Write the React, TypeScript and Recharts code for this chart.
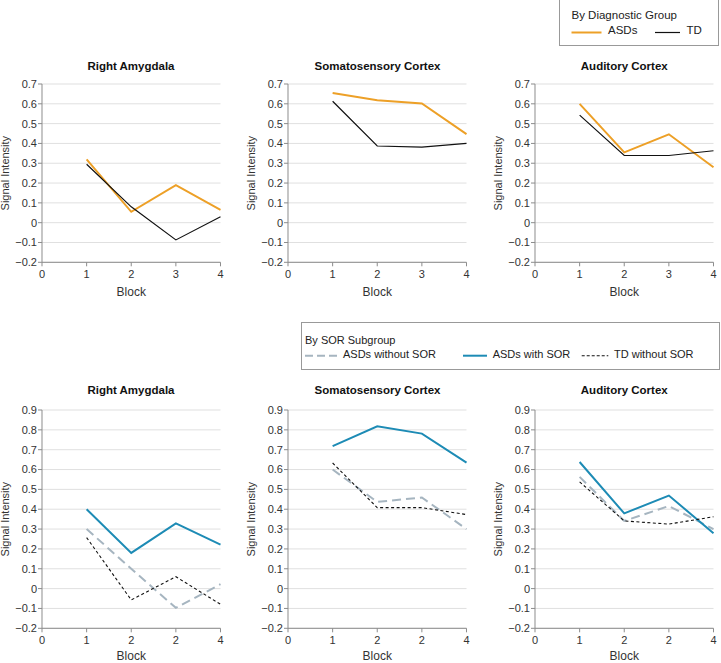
import React from "react";
import { LineChart, Line, XAxis, YAxis, CartesianGrid } from "recharts";

// ---------- data ----------
const blocks = [1, 2, 3, 4];
const topXTickLabels = ["0", "1", "2", "3", "4"];
const bottomXTickLabels = ["0", "1", "2", "2", "4"];
const topYTicks = [-0.2, -0.1, 0, 0.1, 0.2, 0.3, 0.4, 0.5, 0.6, 0.7];
const bottomYTicks = [-0.2, -0.1, 0, 0.1, 0.2, 0.3, 0.4, 0.5, 0.6, 0.7, 0.8, 0.9];
const regionTitles = ["Right Amygdala", "Somatosensory Cortex", "Auditory Cortex"];

// By diagnostic group
const amygdalaASDs = [0.32, 0.055, 0.19, 0.065];
const amygdalaTD = [0.295, 0.08, -0.087, 0.03];
const somatoASDs = [0.655, 0.618, 0.602, 0.447];
const somatoTD = [0.613, 0.387, 0.381, 0.4];
const auditoryASDs = [0.6, 0.355, 0.446, 0.28];
const auditoryTD = [0.543, 0.339, 0.339, 0.363];

// By SOR subgroup
const amygdalaWithoutSOR = [0.3, 0.1, -0.097, 0.022];
const amygdalaWithSOR = [0.4, 0.18, 0.329, 0.222];
const amygdalaTDWithoutSOR = [0.257, -0.057, 0.06, -0.079];
const somatoWithoutSOR = [0.6, 0.437, 0.459, 0.3];
const somatoWithSOR = [0.718, 0.818, 0.781, 0.635];
const somatoTDWithoutSOR = [0.633, 0.408, 0.408, 0.373];
const auditoryWithoutSOR = [0.563, 0.341, 0.416, 0.3];
const auditoryWithSOR = [0.638, 0.379, 0.469, 0.279];
const auditoryTDWithoutSOR = [0.538, 0.341, 0.325, 0.362];

// ---------- styles ----------
const FONT = "'Liberation Sans', Arial, sans-serif";
const NARROW = "'Liberation Sans Narrow', 'Liberation Sans', Arial, sans-serif";
const ORANGE = "#EDA027";
const BLUE = "#1D8BB5";
const GRAY = "#A6B5C0";
const AXIS = "#8c8c8c";
const GRID = "#e0e0e0";

const PLOT_W = 178.5;
const AXIS_X = [41.7, 288.3, 535];

const topData = [
  blocks.map((b, i) => ({ block: b, asd: amygdalaASDs[i], td: amygdalaTD[i] })),
  blocks.map((b, i) => ({ block: b, asd: somatoASDs[i], td: somatoTD[i] })),
  blocks.map((b, i) => ({ block: b, asd: auditoryASDs[i], td: auditoryTD[i] })),
];
const bottomData = [
  blocks.map((b, i) => ({ block: b, wo: amygdalaWithoutSOR[i], w: amygdalaWithSOR[i], td: amygdalaTDWithoutSOR[i] })),
  blocks.map((b, i) => ({ block: b, wo: somatoWithoutSOR[i], w: somatoWithSOR[i], td: somatoTDWithoutSOR[i] })),
  blocks.map((b, i) => ({ block: b, wo: auditoryWithoutSOR[i], w: auditoryWithSOR[i], td: auditoryTDWithoutSOR[i] })),
];

const topSeries = [
  { key: "asd", color: ORANGE, width: 2, dash: undefined },
  { key: "td", color: "#111", width: 1.2, dash: undefined },
];
const bottomSeries = [
  { key: "wo", color: GRAY, width: 2, dash: "9 5" },
  { key: "w", color: BLUE, width: 2, dash: undefined },
  { key: "td", color: "#111", width: 1.1, dash: "3 2.5" },
];

const fmtY = (v: number) => {
  if (Math.abs(v) < 1e-9) return "0";
  return (v < 0 ? "\u2212" : "") + Math.abs(v).toFixed(1);
};

function Txt({ x, baseline, size, bold, children, color }: any) {
  return (
    <div
      style={{
        position: "absolute",
        left: x,
        top: baseline - 0.8465 * size,
        fontSize: size,
        lineHeight: `${size}px`,
        fontFamily: FONT,
        fontWeight: bold ? 700 : 400,
        color: color || "#222",
        whiteSpace: "nowrap",
      }}
    >
      {children}
    </div>
  );
}

function Panel({ axisX, plotTop, plotH, yTicks, xLabels, data, series, title, titleBaseline, blockOffset }: any) {
  const YW = 42;
  const MT = 10;
  const MR = 6;
  const XH = 40;
  const width = YW + PLOT_W + MR;
  const height = MT + plotH + XH;
  const yMin = yTicks[0];
  const yMax = yTicks[yTicks.length - 1];
  return (
    <>
      <div
        style={{
          position: "absolute",
          left: axisX,
          width: PLOT_W,
          top: titleBaseline - 0.8465 * 11.5,
          textAlign: "center",
          fontSize: 11.5,
          lineHeight: "11.5px",
          fontFamily: FONT,
          fontWeight: 700,
          color: "#111",
          whiteSpace: "nowrap",
        }}
      >
        {title}
      </div>
      <div style={{ position: "absolute", left: axisX - YW, top: plotTop - MT }}>
        <LineChart width={width} height={height} data={data} margin={{ top: MT, right: MR, bottom: 0, left: 0 }}>
          <CartesianGrid vertical={false} stroke={GRID} />
          <XAxis
            dataKey="block"
            type="number"
            domain={[0, 4]}
            ticks={[0, 1, 2, 3, 4]}
            interval={0}
            height={XH}
            tickSize={4}
            tickMargin={4}
            stroke={AXIS}
            tick={{ fontSize: 11, fill: "#333", fontFamily: NARROW }}
            tickFormatter={(v: number, i: number) => xLabels[i] ?? String(v)}
            label={{ value: "Block", position: "insideBottom", offset: blockOffset, style: { fontSize: 12, fill: "#333", fontFamily: FONT } }}
          />
          <YAxis
            type="number"
            domain={[yMin, yMax]}
            ticks={yTicks}
            interval={0}
            width={YW}
            tickSize={4}
            tickMargin={1}
            stroke={AXIS}
            allowDataOverflow
            tick={{ fontSize: 11, fill: "#333", fontFamily: NARROW }}
            tickFormatter={fmtY}
            label={{
              value: "Signal Intensity",
              angle: -90,
              position: "insideLeft",
              offset: 5,
              style: { textAnchor: "middle", fontSize: 11, fill: "#333", fontFamily: FONT },
            }}
          />
          {series.map((s: any) => (
            <Line
              key={s.key}
              dataKey={s.key}
              type="linear"
              stroke={s.color}
              strokeWidth={s.width}
              strokeDasharray={s.dash}
              dot={false}
              activeDot={false}
              isAnimationActive={false}
            />
          ))}
        </LineChart>
      </div>
    </>
  );
}

function LegendLine({ x1, x2, y, color, width, dash }: any) {
  return (
    <svg style={{ position: "absolute", left: 0, top: 0, overflow: "visible" }} width={1} height={1}>
      <line x1={x1} x2={x2} y1={y} y2={y} stroke={color} strokeWidth={width} strokeDasharray={dash} />
    </svg>
  );
}

export default function App() {
  return (
    <div style={{ position: "absolute", left: 0, top: 0, width: 721, height: 663, background: "#fff", overflow: "hidden" }}>
      {/* Top legend */}
      <div style={{ position: "absolute", left: 559, top: -1, width: 160, height: 47, border: "1px solid #999", boxSizing: "border-box" }} />
      <Txt x={571.5} baseline={19.5} size={11.5}>By Diagnostic Group</Txt>
      <LegendLine x1={571.5} x2={601.5} y={32.5} color={ORANGE} width={2} />
      <Txt x={608} baseline={34.5} size={11.5}>ASDs</Txt>
      <LegendLine x1={655} x2={680} y={32.5} color="#111" width={1.2} />
      <Txt x={686.5} baseline={34.5} size={11.5}>TD</Txt>

      {[0, 1, 2].map((i) => (
        <Panel
          key={"t" + i}
          axisX={AXIS_X[i]}
          plotTop={84}
          plotH={178.3}
          yTicks={topYTicks}
          xLabels={topXTickLabels}
          data={topData[i]}
          series={topSeries}
          title={regionTitles[i]}
          titleBaseline={71}
          blockOffset={6}
        />
      ))}

      {/* Bottom legend */}
      <div style={{ position: "absolute", left: 301, top: 322, width: 419, height: 48, border: "1px solid #999", boxSizing: "border-box" }} />
      <Txt x={305} baseline={344.5} size={11}>By SOR Subgroup</Txt>
      <LegendLine x1={305} x2={338} y={355.7} color={GRAY} width={2} dash="8 4" />
      <Txt x={343} baseline={358.5} size={11}>ASDs without SOR</Txt>
      <LegendLine x1={463} x2={487} y={355.7} color={BLUE} width={2} />
      <Txt x={492.7} baseline={358.5} size={11}>ASDs with SOR</Txt>
      <LegendLine x1={581.7} x2={608.3} y={355.7} color="#111" width={1.1} dash="3 2" />
      <Txt x={614} baseline={358.5} size={11}>TD without SOR</Txt>

      {[0, 1, 2].map((i) => (
        <Panel
          key={"b" + i}
          axisX={AXIS_X[i]}
          plotTop={410}
          plotH={218.3}
          yTicks={bottomYTicks}
          xLabels={bottomXTickLabels}
          data={bottomData[i]}
          series={bottomSeries}
          title={regionTitles[i]}
          titleBaseline={395}
          blockOffset={8.5}
        />
      ))}
    </div>
  );
}
